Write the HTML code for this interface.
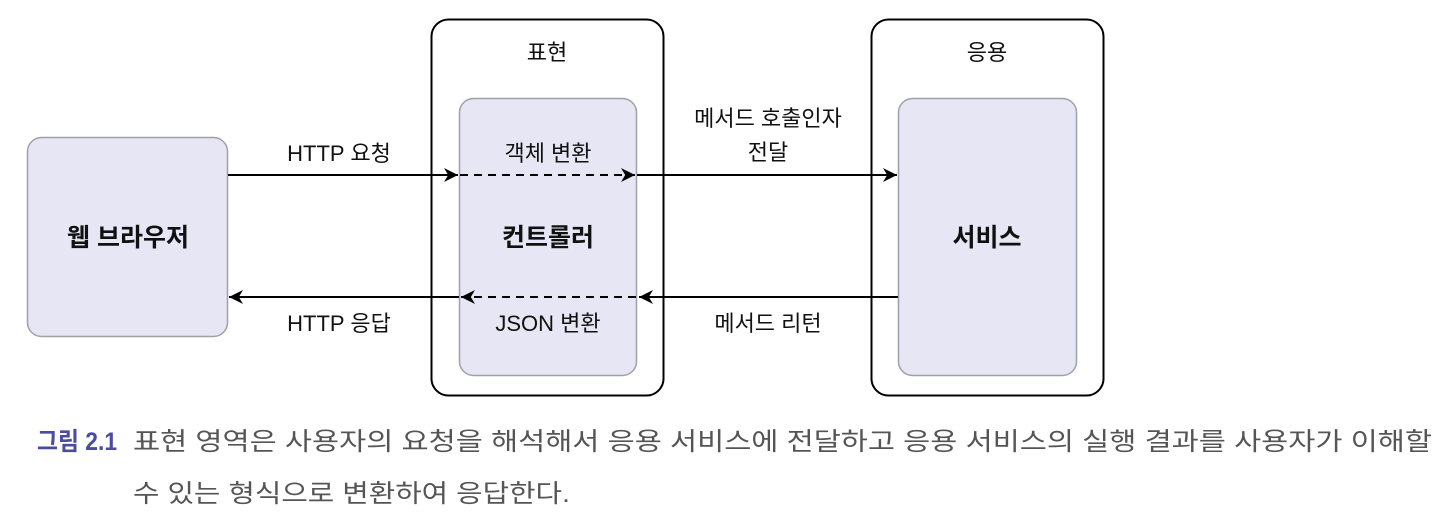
<!DOCTYPE html>
<html><head><meta charset="utf-8"><style>
html,body{margin:0;padding:0;background:#fff;}
svg{display:block;}
text{font-family:"Liberation Sans","Noto Sans CJK KR",sans-serif;}
</style></head><body>
<svg width="1440" height="523" viewBox="0 0 1440 523" xmlns="http://www.w3.org/2000/svg">
<defs>
<marker id="ah" viewBox="0 0 10 10" refX="10" refY="5" markerWidth="14" markerHeight="14" markerUnits="userSpaceOnUse" orient="auto">
<path d="M0,0 L10,5 L0,10 L3,5 z" fill="#000"/></marker>
</defs>
<rect x="0" y="0" width="1440" height="523" fill="#fff"/>
<!-- boxes -->
<rect x="27.5" y="137.5" width="200" height="199" rx="14" fill="#e6e6f4" stroke="#a0a0a8" stroke-width="1.5"/>
<rect x="431.5" y="19.5" width="232" height="376" rx="17" fill="#fff" stroke="#000" stroke-width="2"/>
<rect x="459.5" y="98.5" width="177" height="277" rx="14" fill="#e6e6f4" stroke="#a0a0a8" stroke-width="1.5"/>
<rect x="871.5" y="19.5" width="232" height="376" rx="17" fill="#fff" stroke="#000" stroke-width="2"/>
<rect x="898.5" y="98.5" width="178" height="277" rx="14" fill="#e6e6f4" stroke="#a0a0a8" stroke-width="1.5"/>
<!-- arrows -->
<g stroke="#000" stroke-width="2" fill="none">
<line x1="228" y1="175" x2="458" y2="175" marker-end="url(#ah)"/>
<line x1="460" y1="175" x2="635" y2="175" stroke-dasharray="8,6" marker-end="url(#ah)"/>
<line x1="637" y1="175" x2="897" y2="175" marker-end="url(#ah)"/>
<line x1="898" y1="297" x2="639" y2="297" marker-end="url(#ah)"/>
<line x1="636" y1="297" x2="461" y2="297" stroke-dasharray="8,6" marker-end="url(#ah)"/>
<line x1="459" y1="297" x2="229" y2="297" marker-end="url(#ah)"/>
</g>
<!-- labels -->
<g font-size="22" fill="#111" text-anchor="middle">
<text x="547" y="60">표현</text>
<text x="987" y="60">응용</text>
<text x="339" y="161">HTTP 요청</text>
<text x="339" y="331">HTTP 응답</text>
<text x="548" y="161">객체 변환</text>
<text x="548" y="331">JSON 변환</text>
<text x="768" y="126">메서드 호출인자</text>
<text x="768" y="160">전달</text>
<text x="768" y="331">메서드 리턴</text>
</g>
<g font-size="25" font-weight="bold" fill="#111" text-anchor="middle">
<text x="128" y="246">웹 브라우저</text>
<text x="548" y="246">컨트롤러</text>
<text x="987" y="246">서비스</text>
</g>
<!-- caption -->
<text x="37" y="450" font-size="25" font-weight="bold" fill="#4b4ba0" textLength="80" lengthAdjust="spacingAndGlyphs">그림 2.1</text>
<text x="133" y="450" font-size="25" fill="#555" textLength="1299" lengthAdjust="spacingAndGlyphs">표현 영역은 사용자의 요청을 해석해서 응용 서비스에 전달하고 응용 서비스의 실행 결과를 사용자가 이해할</text>
<text x="133" y="502" font-size="25" fill="#555" textLength="437" lengthAdjust="spacingAndGlyphs">수 있는 형식으로 변환하여 응답한다.</text>
</svg>
</body></html>
